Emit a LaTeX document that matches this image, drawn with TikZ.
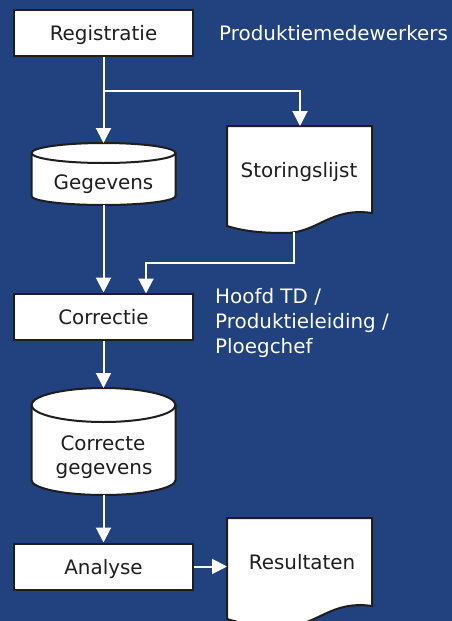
\documentclass[tikz,border=0pt]{standalone}
\usepackage{fontspec}
\setmainfont{DejaVu Sans}
\usetikzlibrary{arrows.meta}
\definecolor{bg}{HTML}{21427E}
\definecolor{ink}{HTML}{1E1E1E}
\begin{document}
\begin{tikzpicture}[x=1pt,y=-1pt,
  font=\fontsize{19.9}{25}\selectfont,
  box/.style={draw=ink, line width=2pt, fill=white, minimum width=179pt, minimum height=46pt, text height=15pt, text depth=0pt, inner sep=0pt, text=ink},
  sym/.style={draw=ink, line width=2pt, fill=white},
  lbl/.style={text=ink, inner sep=0pt},
  wlbl/.style={text=white, inner sep=0pt},
  flow/.style={draw=white, line width=2pt, -{Triangle[width=15pt,length=15pt]}},
]
\useasboundingbox (0,0) rectangle (452,621);
\clip (0,0) rectangle (452,621);
\fill[bg] (0,0) rectangle (452,621);

% process boxes
\node[box] (reg) at (103.5,32.5) {Registratie};
\node[box] (corr) at (103.5,316.5) {Correctie};
\node[box] (ana) at (103.5,566.5) {Analyse};

% cylinder Gegevens
\path[sym] (31.5,153) -- (31.5,196) arc[start angle=180,end angle=360,x radius=72pt,y radius=9pt]
  -- (175.5,153) arc[start angle=0,end angle=180,x radius=72pt,y radius=10pt] -- cycle;
\draw[draw=ink,line width=2pt] (31.5,153) arc[start angle=180,end angle=360,x radius=72pt,y radius=10pt];
\node[lbl,anchor=base] (geg) at (103.5,189) {Gegevens};
\coordinate (gegT) at (103.5,143);
\coordinate (gegB) at (103.5,205);

% cylinder Correcte gegevens
\path[sym] (31.5,405) -- (31.5,480) arc[start angle=180,end angle=360,x radius=72pt,y radius=15pt]
  -- (175.5,405) arc[start angle=0,end angle=180,x radius=72pt,y radius=17pt] -- cycle;
\draw[draw=ink,line width=2pt] (31.5,405) arc[start angle=180,end angle=360,x radius=72pt,y radius=17pt];
\node[lbl,anchor=base] (cg1) at (103,450) {Correcte};
\node[lbl,anchor=base] (cg2) at (104,474) {gegevens};
\coordinate (cgT) at (103.5,388);
\coordinate (cgB) at (103.5,495);

% document Storingslijst
\path[sym] (227,126) -- (372,126) -- (372,213) .. controls (330,207) and (318,233) .. (285,233)
  .. controls (255,233) and (240,230) .. (227,226) -- cycle;
\node[lbl,anchor=base] (stor) at (299,177) {Storingslijst};
\coordinate (storT) at (300,126);
\coordinate (storB) at (294,232);

% document Resultaten
\path[sym] (227,518) -- (372,518) -- (372,606) .. controls (330,600) and (318,626) .. (285,626)
  .. controls (255,626) and (240,623) .. (227,619) -- cycle;
\node[lbl,anchor=base] (res) at (302,569) {Resultaten};
\coordinate (resW) at (227,566.5);

% white labels
\node[wlbl,anchor=base west] (prod) at (219,40) {Produktiemedewerkers};
\node[wlbl,anchor=base west] (h1) at (215,303) {Hoofd TD /};
\node[wlbl,anchor=base west] (h2) at (215,328) {Produktieleiding /};
\node[wlbl,anchor=base west] (h3) at (215,353) {Ploegchef};

% connectors
\coordinate (split) at (103.5,91);
\coordinate (splitR) at (300,91);
\coordinate (sb1) at (294,263);
\coordinate (sb2) at (146,263);
\coordinate (corrT2) at (146,293.5);
\draw[flow] (reg.south) -- (gegT);
\draw[flow] (split) -- (splitR) -- (storT);
\draw[flow] (gegB) -- (corr.north);
\draw[flow] (storB) -- (sb1) -- (sb2) -- (corrT2);
\draw[flow] (corr.south) -- (cgT);
\draw[flow] (cgB) -- (ana.north);
\draw[flow] (ana.east) -- (resW);
\end{tikzpicture}
\end{document}
